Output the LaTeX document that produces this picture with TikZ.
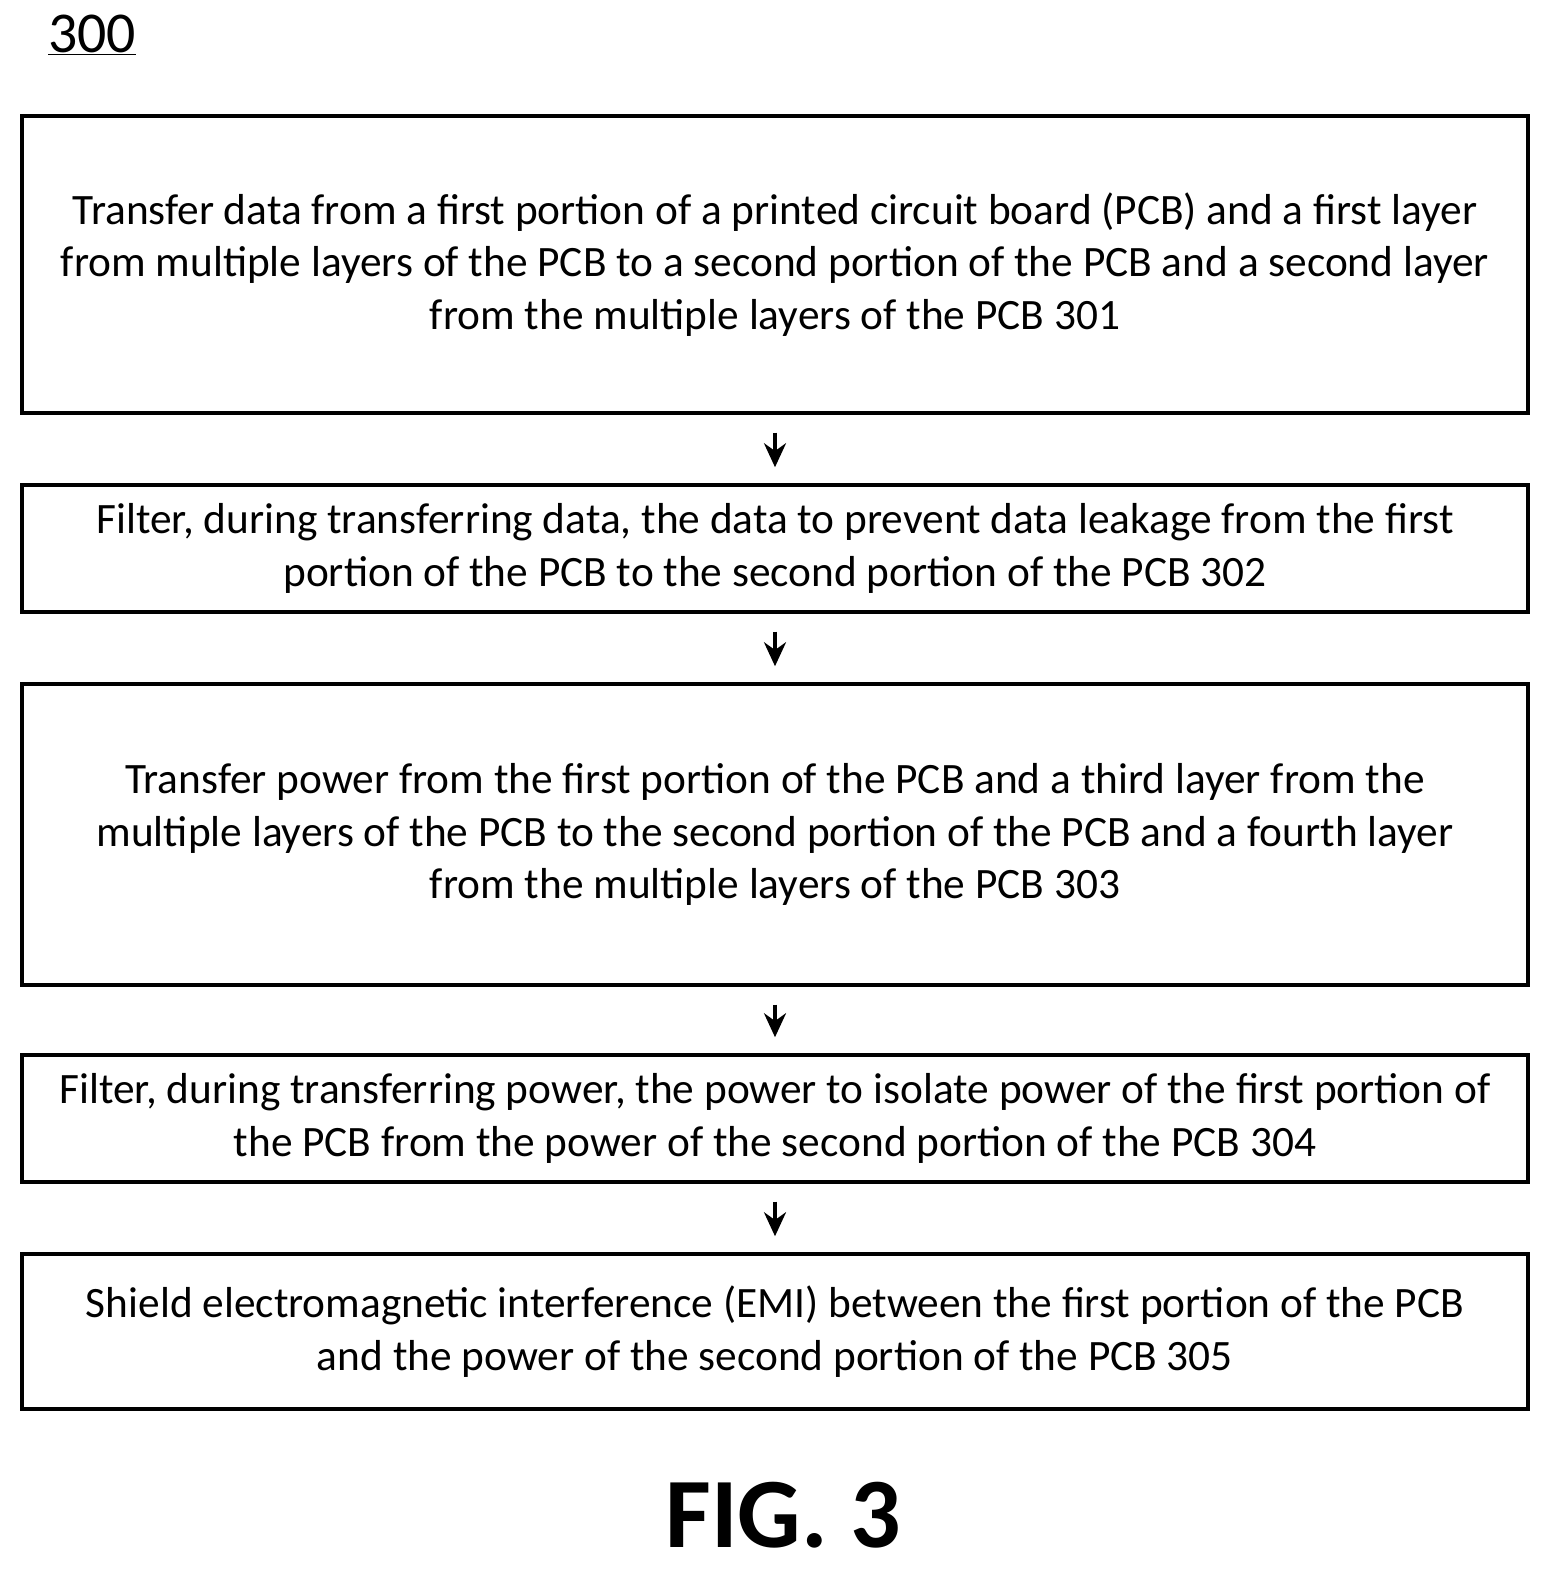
\documentclass[tikz,border=0pt]{standalone}
\usepackage{fontspec}
\setmainfont{Carlito}
\usetikzlibrary{arrows.meta}
\begin{document}
\begin{tikzpicture}[x=1bp,y=1bp,
  box/.style={draw,line width=3.5bp,minimum width=1506bp,align=center,inner sep=0pt,font=\fontsize{43.5}{53}\selectfont},
  arr/.style={line width=3.5bp,-{Stealth[length=24bp,width=22bp]},shorten <=18bp,shorten >=16bp}]
\useasboundingbox (0,0) rectangle (1563,1581);
\node[anchor=north west,font=\fontsize{58}{64}\selectfont,inner sep=0pt] (lbl) at (48,1566) {\underline{300}};
\node[box,minimum height=297bp] (b1) at (775,1581-264.5) {Transfer data from a first portion of a printed circuit board (PCB) and a first layer\\ from multiple layers of the PCB to a second portion of the PCB and a second layer\\ from the multiple layers of the PCB 301};
\node[box,minimum height=127bp] (b2) at (775,1581-548.5) {Filter, during transferring data, the data to prevent data leakage from the first\\ portion of the PCB to the second portion of the PCB 302};
\node[box,minimum height=301bp] (b3) at (775,1581-834.5) {Transfer power from the first portion of the PCB and a third layer from the\\ multiple layers of the PCB to the second portion of the PCB and a fourth layer\\ from the multiple layers of the PCB 303};
\node[box,minimum height=127bp] (b4) at (775,1581-1118.5) {Filter, during transferring power, the power to isolate power of the first portion of\\ the PCB from the power of the second portion of the PCB 304};
\node[box,minimum height=155bp] (b5) at (775,1581-1331.5) {Shield electromagnetic interference (EMI) between the first portion of the PCB\\ and the power of the second portion of the PCB 305};
\draw[arr] (b1) -- (b2);
\draw[arr] (b2) -- (b3);
\draw[arr] (b3) -- (b4);
\draw[arr] (b4) -- (b5);
\node[font=\fontsize{100}{110}\selectfont\bfseries,inner sep=0pt] (fig) at (783,1581-1515) {FIG. 3};
\end{tikzpicture}
\end{document}
